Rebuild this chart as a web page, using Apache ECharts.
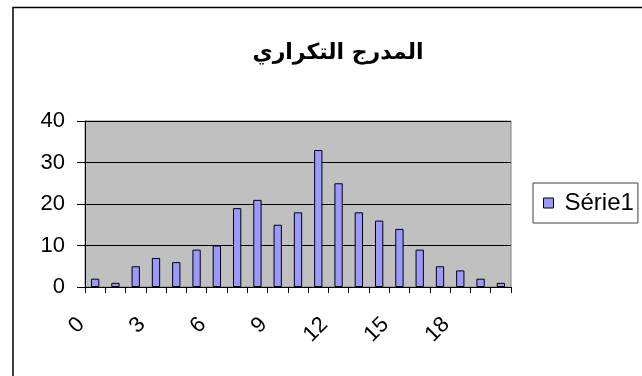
<!DOCTYPE html>
<html>
<head>
<meta charset="utf-8">
<script src="https://cdn.jsdelivr.net/npm/echarts@6/dist/echarts.min.js"></script>
<style>
  html, body { margin: 0; padding: 0; background: #fff; }
  #chart { width: 642px; height: 376px; }
</style>
</head>
<body>
<div id="chart"></div>
<script>
// Frequency histogram: classes 0..20 and their counts
const categories = ['0','1','2','3','4','5','6','7','8','9','10','11','12','13','14','15','16','17','18','19','20'];
const counts = [2, 1, 5, 7, 6, 9, 10, 19, 21, 15, 18, 33, 25, 18, 16, 14, 9, 5, 4, 2, 1];
const yTicks = { min: 0, max: 40, interval: 10 };
const titleText = 'المدرج التكراري';
const seriesName = 'Série1';

const chart = echarts.init(document.getElementById('chart'), null, { renderer: 'canvas' });

chart.setOption({
  backgroundColor: '#ffffff',
  animation: false,
  title: {
    text: titleText,
    left: 333,
    textAlign: 'center',
    top: 37,
    textStyle: {
      fontFamily: 'DejaVu Sans, Liberation Sans, sans-serif',
      fontSize: 22,
      fontWeight: 'bold',
      color: '#000'
    }
  },
  graphic: [
    {
      type: 'polyline',
      shape: { points: [[13, 400], [13, 7.5], [660, 7.5]] },
      style: { stroke: '#000', lineWidth: 1.5, fill: null },
      z: 10
    }
  ],
  legend: {
    data: [seriesName],
    left: 533,
    top: 183,
    orient: 'vertical',
    backgroundColor: '#fff',
    borderColor: '#404040',
    borderWidth: 1,
    padding: [8, 4, 8, 10],
    icon: 'rect',
    itemWidth: 10,
    itemHeight: 10,
    itemGap: 6,
    itemStyle: { borderColor: '#000', borderWidth: 1 },
    textStyle: {
      fontFamily: 'Liberation Sans, Arial, sans-serif',
      fontSize: 24,
      color: '#000',
      padding: [0, 0, 0, 6]
    }
  },
  grid: {
    left: 85,
    top: 121,
    right: 131,
    bottom: 89,
    show: true,
    backgroundColor: '#C0C0C0',
    borderColor: '#808080',
    borderWidth: 1
  },
  xAxis: {
    type: 'category',
    data: categories,
    boundaryGap: true,
    axisLine: { show: true, lineStyle: { color: '#000', width: 1 } },
    axisTick: { show: true, interval: 0, length: 6, lineStyle: { color: '#000' } },
    axisLabel: {
      interval: 2,
      rotate: 45,
      margin: 20,
      padding: [0, 20, 0, 0],
      fontFamily: 'Liberation Sans, Arial, sans-serif',
      fontSize: 22,
      color: '#000'
    },
    splitLine: { show: false }
  },
  yAxis: {
    type: 'value',
    min: yTicks.min,
    max: yTicks.max,
    interval: yTicks.interval,
    axisLine: { show: true, lineStyle: { color: '#000', width: 1 } },
    axisTick: { show: true, length: 8, lineStyle: { color: '#000' } },
    axisLabel: {
      margin: 20,
      fontFamily: 'Liberation Sans, Arial, sans-serif',
      fontSize: 22,
      color: '#000'
    },
    splitLine: { show: true, lineStyle: { color: '#000', width: 1 } }
  },
  series: [
    {
      name: seriesName,
      type: 'bar',
      data: counts,
      barWidth: '41%',
      itemStyle: {
        color: '#9999FF',
        borderColor: '#000',
        borderWidth: 1
      }
    }
  ]
});
</script>
</body>
</html>
